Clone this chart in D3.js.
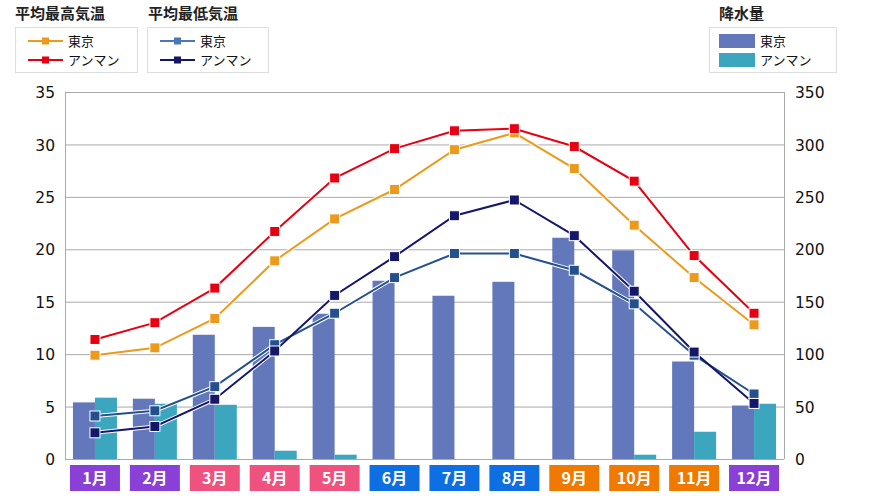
<!DOCTYPE html>
<html><head><meta charset="utf-8">
<script src="https://cdn.jsdelivr.net/npm/d3@7"></script>
<style>body{margin:0;background:#fff}svg{display:block}</style>
</head><body><svg id="c" width="880" height="501" font-family="Noto Sans CJK JP, Noto Sans, sans-serif"></svg>
<script>
const months = ["1月","2月","3月","4月","5月","6月","7月","8月","9月","10月","11月","12月"];
const monthColors = ["#8a3fd6","#8a3fd6","#f0527f","#f0527f","#f0527f","#0e6fe3","#0e6fe3","#0e6fe3","#f07a00","#f07a00","#f07a00","#8a3fd6"];
const tokyoHigh = [9.9,10.6,13.4,18.9,22.9,25.7,29.5,31.1,27.7,22.3,17.3,12.8];
const ammanHigh = [11.4,13.0,16.3,21.7,26.8,29.6,31.3,31.5,29.8,26.5,19.4,13.9];
const tokyoLow = [4.1,4.6,6.9,10.9,13.9,17.3,19.6,19.6,18.0,14.8,9.9,6.2];
const ammanLow = [2.5,3.1,5.7,10.3,15.6,19.3,23.2,24.7,21.3,16.0,10.2,5.3];
const tokyoRain = [54,57.5,118.5,126,138.5,170,155.7,169,211,199,93,51];
const ammanRain = [58.5,52.7,51.7,7.9,4.1,0,0,0,0,4.1,26,52.7];
const leftTicks = [0,5,10,15,20,25,30,35];
const rightTicks = [0,50,100,150,200,250,300,350];

const svg = d3.select("#c");
const L=65,R=784,T=92,B=459;
const x = d3.scaleBand().domain(months).range([L,R]);
const yL = d3.scaleLinear().domain([0,35]).range([B,T]);
const yR = d3.scaleLinear().domain([0,350]).range([B,T]);
const xs = d3.scaleBand().domain(["t","a"]).range([0,44]);
const numFont = "'DejaVu Sans', Verdana, sans-serif";

// grid
svg.append("g").selectAll("line").data(leftTicks).join("line")
  .attr("x1",L).attr("x2",R).attr("y1",d=>yL(d)+0.5).attr("y2",d=>yL(d)+0.5)
  .attr("stroke","#aaa").attr("stroke-width",1);
svg.append("line").attr("x1",L+0.5).attr("x2",L+0.5).attr("y1",T).attr("y2",B).attr("stroke","#aaa");
svg.append("line").attr("x1",R+0.5).attr("x2",R+0.5).attr("y1",T).attr("y2",B).attr("stroke","#aaa");

// axes labels
const axL = d3.axisLeft(yL).tickValues(leftTicks).tickSize(0).tickPadding(10);
const gL = svg.append("g").attr("transform",`translate(${L},0)`).call(axL);
gL.select(".domain").remove();
gL.attr("font-family",null).attr("font-size",null);
gL.selectAll("text").style("font-size","15.5px").style("font-family",numFont).attr("fill","#111").attr("dy","0.36em");
const axR = d3.axisRight(yR).tickValues(rightTicks).tickSize(0).tickPadding(11);
const gR = svg.append("g").attr("transform",`translate(${R},0)`).call(axR);
gR.select(".domain").remove();
gR.attr("font-family",null).attr("font-size",null);
gR.selectAll("text").style("font-size","15.5px").style("font-family",numFont).attr("fill","#111").attr("dy","0.36em");

// bars
const bg = svg.append("g");
months.forEach((m,i)=>{
  const cx = x(m)+x.bandwidth()/2-22;
  bg.append("rect").attr("x",cx+xs("t")).attr("width",xs.bandwidth()).attr("y",yR(tokyoRain[i])).attr("height",B-yR(tokyoRain[i])).attr("fill","#6378bb");
  if(ammanRain[i]>0) bg.append("rect").attr("x",cx+xs("a")).attr("width",xs.bandwidth()).attr("y",yR(ammanRain[i])).attr("height",B-yR(ammanRain[i])).attr("fill","#3ba6bd");
});

// lines
const series = [
  {d:tokyoLow,c:"#24508f"},
  {d:ammanLow,c:"#15176b"},
  {d:tokyoHigh,c:"#eb9a1c"},
  {d:ammanHigh,c:"#e60012"}
];
const line = d3.line().x((d,i)=>x(months[i])+x.bandwidth()/2).y(d=>yL(d));
series.forEach(s=>{
  svg.append("path").datum(s.d).attr("d",line).attr("fill","none").attr("stroke","#fff").attr("stroke-width",4);
});
series.forEach(s=>{
  svg.append("path").datum(s.d).attr("d",line).attr("fill","none").attr("stroke",s.c).attr("stroke-width",2);
});
series.forEach(s=>{
  svg.append("g").selectAll("rect").data(s.d).join("rect")
    .attr("x",(d,i)=>x(months[i])+x.bandwidth()/2-5).attr("y",d=>yL(d)-5)
    .attr("width",10).attr("height",10).attr("fill",s.c).attr("stroke","#fff").attr("stroke-width",1);
});

// month labels
const mg = svg.append("g");
months.forEach((m,i)=>{
  const cx = x(m)+x.bandwidth()/2;
  mg.append("rect").attr("x",cx-25).attr("y",465).attr("width",50).attr("height",26).attr("fill",monthColors[i]);
  mg.append("text").attr("x",cx).attr("y",478).attr("dy","0.36em").attr("text-anchor","middle")
    .attr("font-size",16).attr("font-weight","bold").attr("fill","#fff").text(m);
});

// legends
const rowY = [41,60];
function lineLegend(tx,bx,bw,title,items){
  svg.append("text").attr("x",tx).attr("y",19).attr("font-size",15).attr("font-weight","bold").attr("fill","#222").text(title);
  svg.append("rect").attr("x",bx+0.5).attr("y",27.5).attr("width",bw).attr("height",45).attr("fill","#fff").attr("stroke","#ddd");
  items.forEach((it,k)=>{
    const y = rowY[k];
    svg.append("line").attr("x1",bx+13).attr("x2",bx+48).attr("y1",y).attr("y2",y).attr("stroke",it.c).attr("stroke-width",2);
    svg.append("rect").attr("x",bx+27).attr("y",y-3.5).attr("width",7).attr("height",7).attr("fill",it.c);
    svg.append("text").attr("x",bx+53).attr("y",y).attr("dy","0.36em").attr("font-size",13).attr("fill","#111").text(it.t);
  });
}
lineLegend(15,15,122,"平均最高気温",[{c:"#eb9a1c",t:"東京"},{c:"#e60012",t:"アンマン"}]);
lineLegend(148,147,121,"平均最低気温",[{c:"#4a77b5",t:"東京"},{c:"#15176b",t:"アンマン"}]);

svg.append("text").attr("x",719).attr("y",19).attr("font-size",15).attr("font-weight","bold").attr("fill","#222").text("降水量");
svg.append("rect").attr("x",709.5).attr("y",27.5).attr("width",127).attr("height",45).attr("fill","#fff").attr("stroke","#ddd");
[{c:"#6378bb",t:"東京"},{c:"#3ba6bd",t:"アンマン"}].forEach((it,k)=>{
  const y = rowY[k];
  svg.append("rect").attr("x",719).attr("y",y-7).attr("width",36).attr("height",14).attr("fill",it.c);
  svg.append("text").attr("x",760).attr("y",y).attr("dy","0.36em").attr("font-size",13).attr("fill","#111").text(it.t);
});
</script></body></html>
